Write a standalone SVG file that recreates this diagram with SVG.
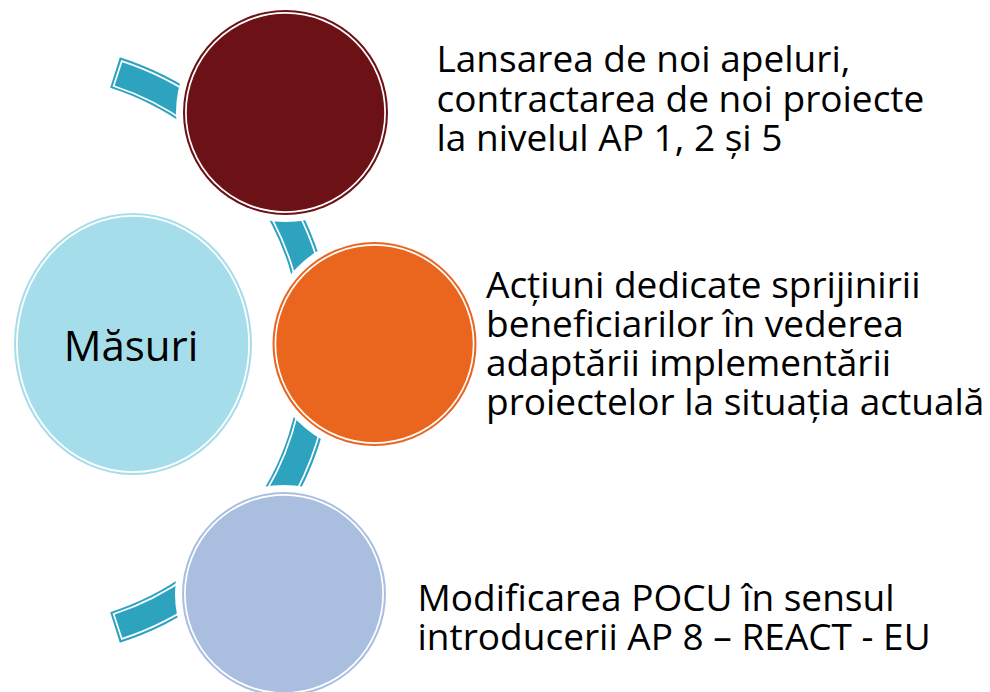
<svg xmlns="http://www.w3.org/2000/svg" width="990" height="692" viewBox="0 0 990 692">
<style>
.band{fill:#2EA3C0}
.bandline{fill:none;stroke:#FFFFFF;stroke-width:1.7}
.halo{fill:#FFFFFF}
.ring{fill:none;stroke:#FFFFFF;stroke-width:1.7}
.txt{font-family:"Open Sans","Noto Sans","Liberation Sans",sans-serif;font-size:37px;fill:#000000}
.title{font-family:"Open Sans","Noto Sans","Liberation Sans",sans-serif;font-size:42px;fill:#000000;text-anchor:middle}
</style>
<rect width="990" height="692" fill="#FFFFFF"/>
<g id="connectors">
<path class="band" d="M 119.84 57.37 A 307 307 0 0 1 119.84 642.63 L 110.16 612.13 A 275 275 0 0 0 110.16 87.87 Z"/>
<path class="bandline" d="M 121.82 61.07 A 304.1 304.1 0 0 1 121.82 638.93 L 113.65 614.03 A 277.9 277.9 0 0 0 113.65 85.97 Z"/>
</g>
<g id="node-masuri">
<ellipse cx="133" cy="344" rx="119" ry="131" fill="#A6DDEA"/>
<ellipse class="ring" cx="133" cy="344" rx="116.1" ry="128.1"/>
<text class="title" x="131" y="361">Măsuri</text>
</g>
<g id="node-1">
<circle class="halo" cx="285.5" cy="112.5" r="109.5"/>
<circle cx="285.5" cy="112.5" r="102.5" fill="#6C1116"/>
<circle class="ring" cx="285.5" cy="112.5" r="99.6"/>
<text class="txt" x="436.5" y="72">Lansarea de noi apeluri,</text>
<text class="txt" x="436.5" y="111.5">contractarea de noi proiecte</text>
<text class="txt" x="436.5" y="151">la nivelul AP 1, 2 și 5</text>
</g>
<g id="node-2">
<circle class="halo" cx="374.5" cy="344" r="109"/>
<circle cx="374.5" cy="344" r="102" fill="#EA651E"/>
<circle class="ring" cx="374.5" cy="344" r="99.1"/>
<text class="txt" x="486" y="297.5">Acțiuni dedicate sprijinirii</text>
<text class="txt" x="486" y="337">beneficiarilor în vederea</text>
<text class="txt" x="486" y="376">adaptării implementării</text>
<text class="txt" x="486" y="415">proiectelor la situația actuală</text>
</g>
<g id="node-3">
<circle class="halo" cx="284" cy="594" r="109"/>
<circle cx="284" cy="594" r="102" fill="#AABFDF"/>
<circle class="ring" cx="284" cy="594" r="99.1"/>
<text class="txt" x="417.5" y="610.5">Modificarea POCU în sensul</text>
<text class="txt" x="417.5" y="650">introducerii AP 8 – REACT - EU</text>
</g>
</svg>
